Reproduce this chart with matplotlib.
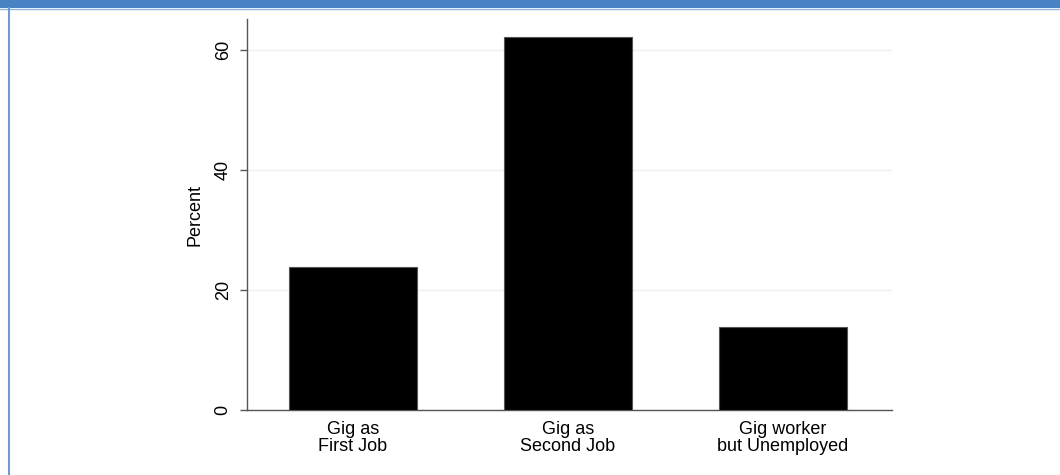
import matplotlib
matplotlib.use("Agg")
import matplotlib.pyplot as plt
from matplotlib.patches import Rectangle
from matplotlib.lines import Line2D

categories = ["Gig as\nFirst Job", "Gig as\nSecond Job", "Gig worker\nbut Unemployed"]
values = [23.8, 62.2, 13.8]
yticks = [0, 20, 40, 60]

plt.rcParams['font.family'] = ['Liberation Sans', 'DejaVu Sans']

W, H = 1060, 475
fig = plt.figure(figsize=(W / 100, H / 100), dpi=100)
fig.patch.set_facecolor('white')

# top banner and left border
fig.add_artist(Rectangle((0, 1 - 8 / H), 1, 8 / H, transform=fig.transFigure,
                         facecolor='#4a83c4', edgecolor='none', zorder=0))
fig.add_artist(Line2D([0, 1], [1 - 8.5 / H, 1 - 8.5 / H], transform=fig.transFigure,
                      color='#8fb4de', lw=1))
fig.add_artist(Line2D([8.5 / W, 8.5 / W], [0, 1 - 8 / H], transform=fig.transFigure,
                      color='#6f9bd2', lw=1.5))

left, right = 247 / W, 892 / W
bottom, top = 1 - 410 / H, 1 - 19 / H
ax = fig.add_axes([left, bottom, right - left, top - bottom])

x = list(range(len(categories)))
ax.bar(x, values, width=0.595, color='black', edgecolor='#555555', linewidth=0.8, zorder=3)
ax.set_xlim(-0.493, 2.507)
ax.set_ylim(0, 65.2)
ax.set_yticks(yticks)
ax.set_yticklabels([str(t) for t in yticks], rotation=90, va='center', fontsize=13)
ax.set_xticks(x)
ax.set_xticklabels(categories, fontsize=13, linespacing=1.0)
ax.tick_params(axis='x', length=0, pad=8)
ax.tick_params(axis='y', length=5, width=1, color='#555555', pad=6)
ax.yaxis.grid(True, color='#eaf0f4', linewidth=1, zorder=0)
ax.set_axisbelow(True)
for s in ['top', 'right']:
    ax.spines[s].set_visible(False)
for s in ['left', 'bottom']:
    ax.spines[s].set_color('#555555')
    ax.spines[s].set_linewidth(1)
ax.set_ylabel("Percent", fontsize=13, labelpad=8)

fig.savefig("out.png", dpi=100)
